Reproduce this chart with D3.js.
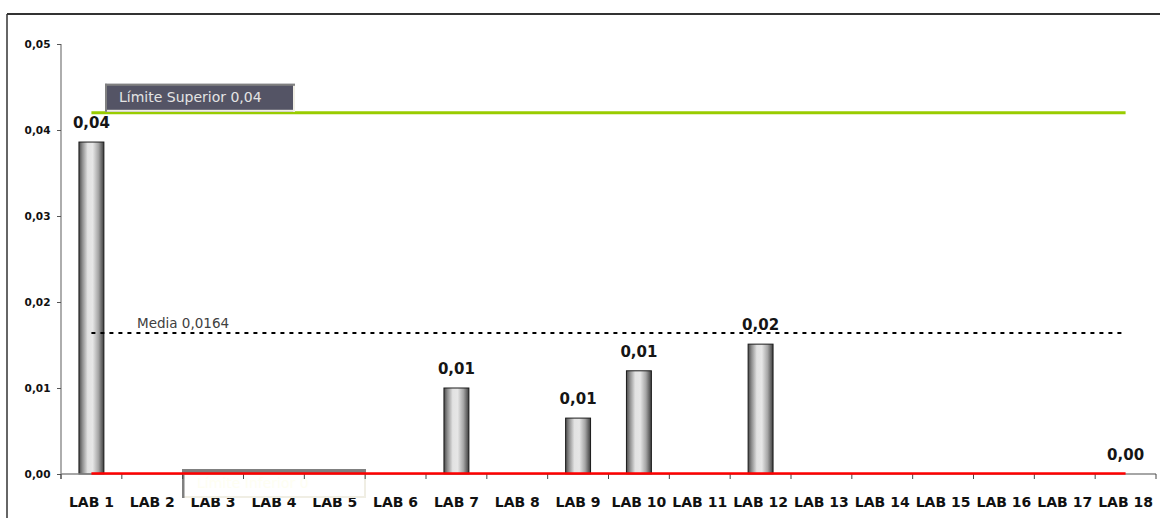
<!DOCTYPE html>
<html>
<head>
  <title>Laboratorios - Limites</title>
  <script src="https://d3js.org/d3.v7.min.js"></script>
  <style>
    body { margin: 0; background: #fff; }
    text { font-family: "DejaVu Sans", Verdana, sans-serif; }
  </style>
</head>
<body>
  <script>

// chart data
const labs = ["LAB 1", "LAB 2", "LAB 3", "LAB 4", "LAB 5", "LAB 6", "LAB 7", "LAB 8", "LAB 9",
  "LAB 10", "LAB 11", "LAB 12", "LAB 13", "LAB 14", "LAB 15", "LAB 16", "LAB 17", "LAB 18"];
const values = [0.0386, 0, 0, 0, 0, 0, 0.01, 0, 0.0065, 0.012, 0, 0.0151, 0, 0, 0, 0, 0, 0];
const labelledLabs = ["LAB 1", "LAB 7", "LAB 9", "LAB 10", "LAB 12", "LAB 18"];
const yTicks = [0, 0.01, 0.02, 0.03, 0.04, 0.05];
const limitSup = 0.042;
const limitInf = 0;
const media = 0.0164;

const width = 1160, height = 518;
const fmt = v => d3.format(".2f")(v).replace(".", ",");

const svg = d3.select("body")
  .append("svg")
  .attr("width", width)
  .attr("height", height);

const x = d3.scaleBand()
  .domain(labs)
  .range([61, 1156])
  .padding(0);

const y = d3.scaleLinear()
  .domain([0, 0.05])
  .range([474, 44]);

const cx = d => x(d) + x.bandwidth() / 2;
const barW = x.bandwidth() * 0.41;

// outer frame (only top and left visible)
svg.append("line").attr("x1", 7).attr("x2", width).attr("y1", 14).attr("y2", 14)
  .attr("stroke", "#333").attr("stroke-width", 2);
svg.append("line").attr("x1", 7).attr("x2", 7).attr("y1", 14).attr("y2", height)
  .attr("stroke", "#333").attr("stroke-width", 1.5);

// bar gradient (cylinder look)
const grad = svg.append("defs").append("linearGradient")
  .attr("id", "barGrad").attr("x1", "0%").attr("x2", "100%");
[[0, "#4a4a4a"], [0.14, "#8e8e8e"], [0.35, "#e2e2e2"], [0.55, "#e6e6e6"], [0.78, "#a6a6a6"], [1, "#3e3e3e"]]
  .forEach(s => grad.append("stop").attr("offset", s[0]).attr("stop-color", s[1]));

// y axis
const yAxis = svg.append("g").attr("transform", "translate(61,0)")
  .call(d3.axisLeft(y).tickValues(yTicks).tickSize(4).tickPadding(6).tickFormat(fmt));
yAxis.select(".domain").attr("stroke", "#777").attr("stroke-width", 1.2).attr("d", "M0,44V479");
yAxis.selectAll(".tick line").attr("stroke", "#555");
yAxis.selectAll(".tick text")
  .attr("font-family", "DejaVu Sans").attr("font-size", "10.5px").attr("font-weight", "bold")
  .attr("fill", "#111").attr("x", -10.5);

// x labels
svg.append("g").selectAll("text")
  .data(labs)
  .enter().append("text")
  .attr("x", d => cx(d))
  .attr("y", 507)
  .attr("text-anchor", "middle")
  .attr("font-size", "14px")
  .attr("font-weight", "bold")
  .attr("fill", "#111")
  .text(d => d);

// bars
const data = labs.map((l, i) => ({ lab: l, value: values[i] }));
svg.append("g").selectAll("rect")
  .data(data.filter(d => d.value > 0))
  .enter().append("rect")
  .attr("x", d => cx(d.lab) - barW / 2)
  .attr("y", d => y(d.value))
  .attr("width", barW)
  .attr("height", d => y(0) - y(d.value))
  .attr("fill", "url(#barGrad)")
  .attr("stroke", "#1a1a1a")
  .attr("stroke-width", 1);

// value labels
svg.append("g").selectAll("text")
  .data(data.filter(d => labelledLabs.includes(d.lab)))
  .enter().append("text")
  .attr("x", d => cx(d.lab))
  .attr("y", d => y(d.value) - 14)
  .attr("text-anchor", "middle")
  .attr("font-size", "15px")
  .attr("font-weight", "bold")
  .attr("fill", "#151515")
  .text(d => fmt(d.value));

const xStart = cx(labs[0]), xEnd = cx(labs[labs.length - 1]);

// media line
svg.append("line")
  .attr("x1", xStart).attr("x2", xEnd)
  .attr("y1", y(media)).attr("y2", y(media))
  .attr("stroke", "#000").attr("stroke-width", 2)
  .attr("stroke-dasharray", "4,5");
svg.append("text")
  .attr("x", 137).attr("y", y(media) - 4.5)
  .attr("font-size", "13.5px")
  .attr("fill", "#404040")
  .text("Media " + d3.format(".4f")(media).replace(".", ","));

// limite superior line + label box
svg.append("line")
  .attr("x1", xStart).attr("x2", xEnd)
  .attr("y1", y(limitSup)).attr("y2", y(limitSup))
  .attr("stroke", "#99cc00").attr("stroke-width", 3);

function labelBox(x0, y0, w, h, fill, topW, leftW) {
  const g = svg.append("g");
  g.append("rect").attr("x", x0).attr("y", y0).attr("width", w).attr("height", h).attr("fill", fill);
  g.append("rect").attr("x", x0).attr("y", y0 + h - 2).attr("width", w).attr("height", 2).attr("fill", "#f0eee4");
  g.append("rect").attr("x", x0 + w - 2).attr("y", y0).attr("width", 2).attr("height", h).attr("fill", "#f0eee4");
  g.append("rect").attr("x", x0).attr("y", y0).attr("width", w).attr("height", topW).attr("fill", "#808080");
  g.append("rect").attr("x", x0).attr("y", y0).attr("width", leftW).attr("height", h).attr("fill", "#808080");
  return g;
}

labelBox(105, y(limitSup) - 29, 190, 28, "#545465", 2, 2)
  .append("text")
  .attr("x", 119).attr("y", y(limitSup) - 11)
  .attr("font-size", "14px")
  .attr("fill", "#e4e4e4")
  .text("Límite Superior " + fmt(limitSup));

// limite inferior box (sits over the axis)
labelBox(182, y(limitInf) - 5, 184, 29, "#ffffff", 4, 2.5)
  .append("text")
  .attr("x", 197).attr("y", y(limitInf) + 13.5)
  .attr("font-size", "14px")
  .attr("fill", "#fefef2")
  .text("Límite Inferior " + limitInf);

// x axis line and boundary ticks
svg.append("line")
  .attr("x1", 61).attr("x2", 1156).attr("y1", y(0)).attr("y2", y(0))
  .attr("stroke", "#888").attr("stroke-width", 1.5);
svg.append("g").selectAll("line")
  .data(labs.map(d => x(d)).concat([x.range()[1]]))
  .enter().append("line")
  .attr("x1", d => d).attr("x2", d => d)
  .attr("y1", y(0)).attr("y2", y(0) + 5)
  .attr("stroke", "#444").attr("stroke-width", 1);

// limite inferior line (red)
svg.append("line")
  .attr("x1", xStart).attr("x2", xEnd)
  .attr("y1", y(limitInf) - 0.5).attr("y2", y(limitInf) - 0.5)
  .attr("stroke", "#ff0000").attr("stroke-width", 2.3);

  </script>
</body>
</html>
